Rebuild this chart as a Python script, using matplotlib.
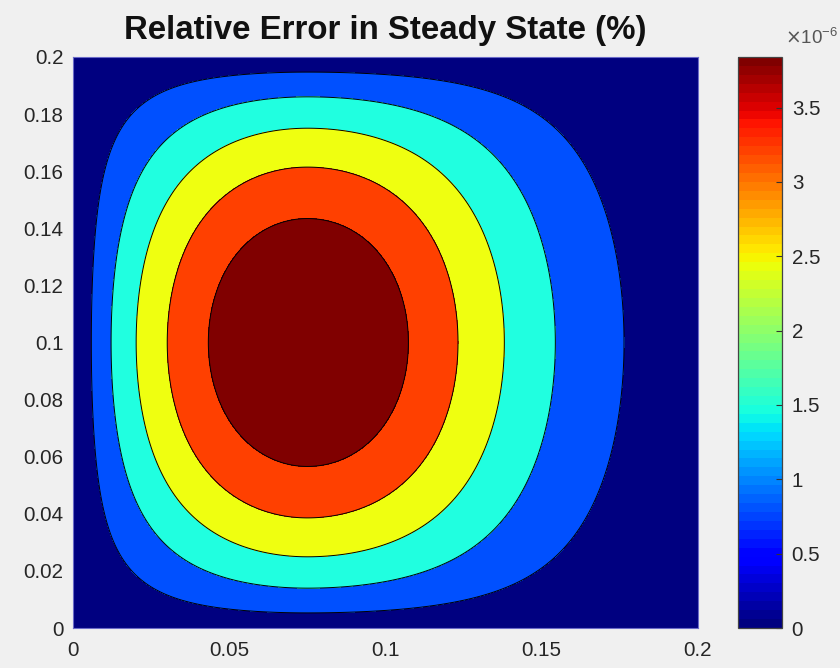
"""Relative error contour (MATLAB-style contourf) -> out.png"""
import numpy as np
import matplotlib
matplotlib.use("Agg")
import matplotlib.pyplot as plt
from matplotlib.colors import Normalize

plt.rcParams["font.family"] = ["Liberation Sans", "DejaVu Sans"]

# field parameters
peak_val = 3.84e-6                  # colorbar top
peak_x, peak_y = 0.075, 0.10        # centre of the inner ellipse
left_reach = 0.073                  # field falls to 0 this far left of the peak
right_width = 0.0757                # gaussian-like tail to the right
y_reach = 0.10
shape_pow = 0.72
corner_round = 0.6                  # rounds the left-hand corners
n_levels = 6
fill_colors = ["#000080", "#0050ff", "#20ffe0", "#efff10", "#ff4000", "#800000"]
cbar_ticks = [0, 0.5, 1, 1.5, 2, 2.5, 3, 3.5]
axis_ticks_x = [0, 0.05, 0.1, 0.15, 0.2]
axis_ticks_y = [0, 0.02, 0.04, 0.06, 0.08, 0.1, 0.12, 0.14, 0.16, 0.18, 0.2]

x = np.linspace(0, 0.2, 501)
y = np.linspace(0, 0.2, 501)
X, Y = np.meshgrid(x, y)
dx = X - peak_x
u = np.clip(np.abs(dx) / left_reach, 0, 1)
gx = np.where(dx < 0, np.cos(np.pi / 2 * u) ** shape_pow, np.exp(-(dx / right_width) ** 2))
v = np.clip(np.abs(Y - peak_y) / y_reach, 0, 1)
gy = np.cos(np.pi / 2 * v) ** shape_pow
k = np.where(dx < 0, corner_round, 0.0)
Z = peak_val * gx * gy * (1 - k * (1 - gx) * (1 - gy))
Z = np.clip(Z, 0, None)

levels = np.linspace(0, peak_val, n_levels + 1)
levels[-1] *= 1.0001

fig = plt.figure(figsize=(8.4, 6.68), dpi=100, facecolor="#f0f0f0")
ax = fig.add_axes([73/840, 40/668, 625/840, 571/668])
ax.contourf(X, Y, Z, levels=levels, colors=fill_colors)
ax.contour(X, Y, Z, levels=levels[1:-1], colors="black", linewidths=0.7)
ax.set_xlim(0, 0.2); ax.set_ylim(0, 0.2)
ax.set_xticks(axis_ticks_x, ["0", "0.05", "0.1", "0.15", "0.2"])
ax.set_yticks(axis_ticks_y, ["0", "0.02", "0.04", "0.06", "0.08", "0.1", "0.12",
                             "0.14", "0.16", "0.18", "0.2"])
ax.tick_params(axis="y", length=0, labelsize=14.8, labelcolor="#262626", pad=7)
ax.tick_params(axis="x", length=0, labelsize=14.8, labelcolor="#262626", pad=9)
for s in ax.spines.values():
    s.set_color("#6a6ac8"); s.set_linewidth(0.8)
ax.set_title("Relative Error in Steady State (%)", fontsize=23.8, fontweight="bold",
             color="#111111", pad=13)

cax = fig.add_axes([738/840, 40/668, 44/840, 571/668])
sm = plt.cm.ScalarMappable(norm=Normalize(0, peak_val), cmap=plt.get_cmap("jet", 64))
cb = fig.colorbar(sm, cax=cax)
cb.set_ticks([t * 1e-6 for t in cbar_ticks], labels=[f"{t:g}" for t in cbar_ticks])
cb.outline.set_edgecolor("#444444"); cb.outline.set_linewidth(0.9)
cax.tick_params(direction="in", length=4, width=0.8, color="#333333",
                labelsize=14.8, labelcolor="#262626", pad=7)
fig.text(785/840, 1 - 38/668, r"$\times\mathregular{10^{-6}}$", fontsize=13.5,
         color="#555555", ha="left", va="center")

fig.savefig("out.png", dpi=100, facecolor=fig.get_facecolor())
